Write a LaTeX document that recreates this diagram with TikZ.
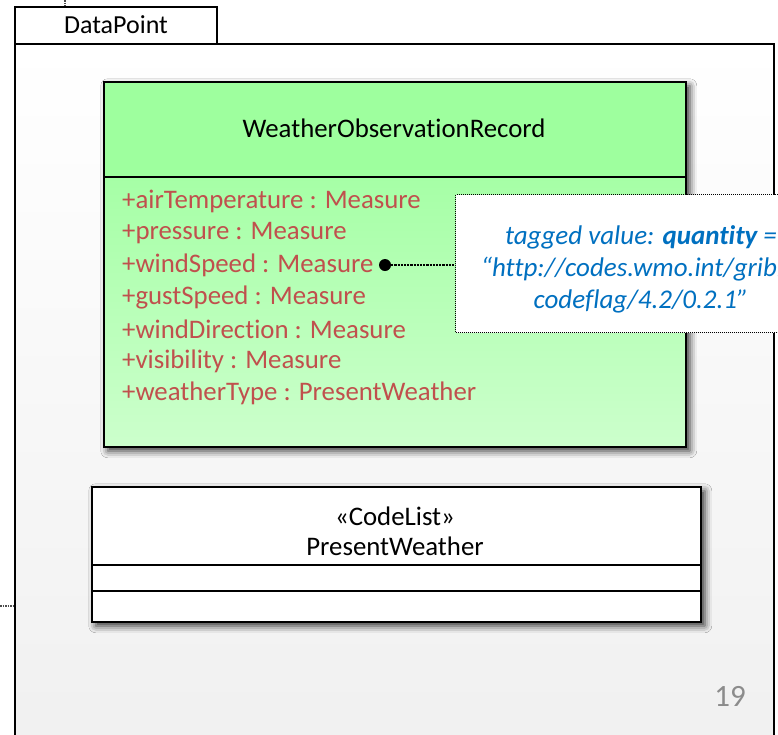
\documentclass[tikz,border=0pt]{standalone}
\usepackage{fontspec}
\setmainfont[Ligatures=NoCommon]{Carlito}
\usetikzlibrary{shadows.blur}
\definecolor{hdrgreen}{HTML}{9EFF9E}
\definecolor{attrtop}{HTML}{A6FFA6}
\definecolor{attrbot}{HTML}{CCFFCC}
\definecolor{attrtext}{HTML}{C0504D}
\definecolor{notetext}{HTML}{0070C0}
\definecolor{pkgfill}{HTML}{F0F0F0}
\tikzset{
  box/.style={draw=black, line width=1.5pt, inner sep=0pt, anchor=north west},
  shadowed/.style={blur shadow={shadow xshift=4pt, shadow yshift=-4pt, shadow blur radius=7pt, shadow opacity=80}},
  attr/.style={anchor=west, inner sep=0pt, text=attrtext, font=\fontsize{26.8}{30}\selectfont},
  title/.style={inner sep=0pt, font=\fontsize{26.8}{30}\selectfont},
  notebox/.style={draw=black, densely dotted, line width=1pt, fill=white, anchor=north west, inner sep=0pt},
  notelink/.style={densely dotted, line width=2.2pt},
  feed/.style={densely dotted, line width=1.5pt, draw=black!70}
}
\begin{document}
\begin{tikzpicture}[x=1pt, y=-1pt]
  \clip (0,0) rectangle (778,734);
  \fill[white] (0,0) rectangle (778,734);

  % package DataPoint
  \node[box, fill=white, minimum width=202pt, minimum height=37pt] (tab) at (14,6) {};
  \node[title, font=\fontsize{26}{30}\selectfont] (tabname) at (116,25) {DataPoint};
  \node[box, top color=white, bottom color=pkgfill, minimum width=759pt, minimum height=720pt] (pkg) at (14,43) {};

  % incoming connectors
  \coordinate (topin) at (65,0);
  \coordinate (leftin) at (0,606);
  \draw[feed] (topin) -- (topin |- tab.north);
  \draw[feed] (leftin) -- (leftin -| pkg.west);

  % class WeatherObservationRecord
  \node[box, fill=hdrgreen, shadowed, minimum width=582pt, minimum height=365pt] (wor) at (103,81) {};
  \node[box, top color=attrtop, bottom color=attrbot, minimum width=582pt, minimum height=270pt] (worattr) at (103,176) {};
  \node[box, fill=none, minimum width=582pt, minimum height=365pt] (worframe) at (103,81) {};
  \node[title] (worname) at (394,128) {WeatherObservationRecord};
  \node[attr] (a1) at (122,201) {+airTemperature : Measure};
  \node[attr] (a2) at (122,233) {+pressure : Measure};
  \node[attr] (a3) at (122,265) {+windSpeed : Measure};
  \node[attr] (a4) at (122,297) {+gustSpeed : Measure};
  \node[attr] (a5) at (122,329) {+windDirection : Measure};
  \node[attr] (a6) at (122,361) {+visibility : Measure};
  \node[attr] (a7) at (122,393) {+weatherType : PresentWeather};

  % tagged value note
  \node[notebox, minimum width=370pt, minimum height=138pt] (note) at (455,194) {};
  \node[inner sep=0pt, text=notetext, align=center, font=\fontsize{27}{32}\selectfont\itshape] (notetxt) at (641,269)
    {tagged value: \textbf{quantity} =\\“http://codes.wmo.int/grib2/\\codeflag/4.2/0.2.1”};
  \node[circle, fill=black, inner sep=0pt, minimum size=12pt] (dot) at (385,265) {};
  \draw[notelink] (dot) -- (dot -| note.west);

  % class PresentWeather
  \node[box, fill=white, shadowed, minimum width=609pt, minimum height=135pt] (pw) at (91,486) {};
  \draw[line width=1.5pt] (91,565) coordinate (pwl1) -- (pwl1 -| pw.east);
  \draw[line width=1.5pt] (91,591) coordinate (pwl2) -- (pwl2 -| pw.east);
  \node[title] (pwster) at (395,516) {«CodeList»};
  \node[title] (pwname) at (395,546) {PresentWeather};

  % page number
  \node[inner sep=0pt, text=black!45, font=\fontsize{31}{36}\selectfont] (pageno) at (730,696) {19};
\end{tikzpicture}
\end{document}
